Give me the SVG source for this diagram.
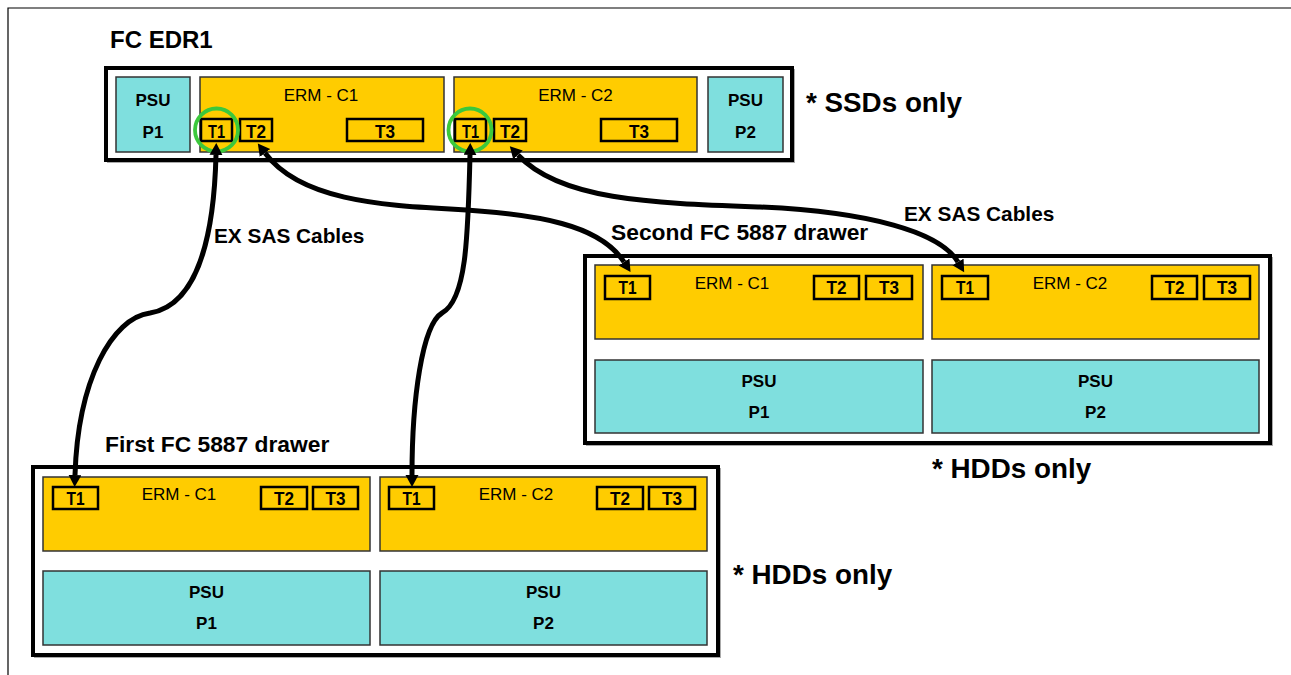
<svg xmlns="http://www.w3.org/2000/svg" width="1291" height="675" viewBox="0 0 1291 675">
<style>
text{font-family:"Liberation Sans",Arial,sans-serif;fill:#000}
.ttl{font-weight:bold;font-size:22.8px}
.big{font-weight:bold;font-size:24px}
.note{font-weight:bold;font-size:27.8px}
.cab{font-weight:bold;font-size:20.8px}
.psu{font-weight:bold;font-size:17px;text-anchor:middle}
.erm{font-size:17px;text-anchor:middle}
.t{font-weight:bold;font-size:18.5px;text-anchor:middle}
.outer{fill:#fff;stroke:#000;stroke-width:4}
.shadow{fill:none;stroke:#aaa;stroke-width:2}
.gold{fill:#FFCC00;stroke:#333;stroke-width:1.5}
.cyan{fill:#7FDFDE;stroke:#333;stroke-width:1.5}
.port{fill:none;stroke:#000;stroke-width:2.5}
.ring{fill:none;stroke:#3CC83C;stroke-width:3.8}
.cable{fill:none;stroke:#000;stroke-width:5;marker-start:url(#ah);marker-end:url(#ah)}
</style>
<defs>
<marker id="ah" markerUnits="userSpaceOnUse" markerWidth="14" markerHeight="14" refX="0" refY="6.5" orient="auto-start-reverse">
<path d="M0,0 L12,6.5 L0,13 z" fill="#000"/>
</marker>
</defs>
<rect x="0" y="0" width="1291" height="675" fill="#fff"/>
<path d="M8,675 L8,8 L1291,8" fill="none" stroke="#000" stroke-width="1.2"/>

<g id="edr1">
<text class="big" x="110" y="48">FC EDR1</text>
<rect class="shadow" x="108" y="70" width="686" height="92"/>
<rect class="outer" x="106" y="68" width="686" height="92"/>
<g id="edr1-psu1"><rect class="cyan" x="116" y="77" width="74" height="75"/><text class="psu" x="153" y="106">PSU</text><text class="psu" x="153" y="138">P1</text></g>
<g id="edr1-c1"><rect class="gold" x="200" y="77" width="244" height="75"/><text class="erm" x="321" y="101">ERM - C1</text>
<rect class="port" x="201" y="119" width="31" height="22"/><text class="t" x="216.5" y="138" textLength="17" lengthAdjust="spacingAndGlyphs">T1</text>
<rect class="port" x="240" y="119" width="32" height="22"/><text class="t" x="256" y="138" textLength="20" lengthAdjust="spacingAndGlyphs">T2</text>
<rect class="port" x="347" y="119" width="76" height="22"/><text class="t" x="385" y="138" textLength="20" lengthAdjust="spacingAndGlyphs">T3</text></g>
<g id="edr1-c2"><rect class="gold" x="454" y="77" width="243" height="75"/><text class="erm" x="575.5" y="101">ERM - C2</text>
<rect class="port" x="455" y="119" width="31" height="22"/><text class="t" x="470.5" y="138" textLength="17" lengthAdjust="spacingAndGlyphs">T1</text>
<rect class="port" x="494" y="119" width="32" height="22"/><text class="t" x="510" y="138" textLength="20" lengthAdjust="spacingAndGlyphs">T2</text>
<rect class="port" x="601" y="119" width="76" height="22"/><text class="t" x="639" y="138" textLength="20" lengthAdjust="spacingAndGlyphs">T3</text></g>
<g id="edr1-psu2"><rect class="cyan" x="708" y="77" width="75" height="75"/><text class="psu" x="745.5" y="106">PSU</text><text class="psu" x="745.5" y="138">P2</text></g>
<circle class="ring" cx="216.5" cy="130" r="21.5"/>
<circle class="ring" cx="470" cy="130" r="21.5"/>
<text class="note" x="806" y="112">* SSDs only</text>
</g>

<g id="drawer2">
<text class="ttl" x="611" y="240">Second FC 5887 drawer</text>
<rect class="shadow" x="587" y="258" width="685" height="187"/>
<rect class="outer" x="585" y="256" width="685" height="187"/>
<g id="d2-c1"><rect class="gold" x="595" y="265" width="328" height="74"/><text class="erm" x="732" y="289">ERM - C1</text>
<rect class="port" x="605" y="276" width="45" height="23"/><text class="t" x="627.5" y="294" textLength="18" lengthAdjust="spacingAndGlyphs">T1</text>
<rect class="port" x="814" y="276" width="45" height="23"/><text class="t" x="836.5" y="294" textLength="20" lengthAdjust="spacingAndGlyphs">T2</text>
<rect class="port" x="866" y="276" width="46" height="23"/><text class="t" x="889" y="294" textLength="20" lengthAdjust="spacingAndGlyphs">T3</text></g>
<g id="d2-c2"><rect class="gold" x="932" y="265" width="327" height="74"/><text class="erm" x="1070" y="289">ERM - C2</text>
<rect class="port" x="942" y="276" width="46" height="23"/><text class="t" x="965" y="294" textLength="18" lengthAdjust="spacingAndGlyphs">T1</text>
<rect class="port" x="1152" y="276" width="45" height="23"/><text class="t" x="1174.5" y="294" textLength="20" lengthAdjust="spacingAndGlyphs">T2</text>
<rect class="port" x="1204" y="276" width="46" height="23"/><text class="t" x="1227" y="294" textLength="20" lengthAdjust="spacingAndGlyphs">T3</text></g>
<g id="d2-p1"><rect class="cyan" x="595" y="360" width="328" height="73"/><text class="psu" x="759" y="387">PSU</text><text class="psu" x="759" y="418">P1</text></g>
<g id="d2-p2"><rect class="cyan" x="932" y="360" width="327" height="73"/><text class="psu" x="1095.5" y="387">PSU</text><text class="psu" x="1095.5" y="418">P2</text></g>
<text class="note" x="932" y="478">* HDDs only</text>
</g>

<g id="drawer1">
<text class="ttl" x="105" y="452">First FC 5887 drawer</text>
<rect class="shadow" x="35" y="469" width="685" height="188"/>
<rect class="outer" x="33" y="467" width="685" height="188"/>
<g id="d1-c1"><rect class="gold" x="43" y="477" width="327" height="74"/><text class="erm" x="179" y="500">ERM - C1</text>
<rect class="port" x="53" y="487" width="45" height="22"/><text class="t" x="75.5" y="505" textLength="18" lengthAdjust="spacingAndGlyphs">T1</text>
<rect class="port" x="261" y="487" width="46" height="22"/><text class="t" x="284" y="505" textLength="20" lengthAdjust="spacingAndGlyphs">T2</text>
<rect class="port" x="313" y="487" width="45" height="22"/><text class="t" x="335.5" y="505" textLength="20" lengthAdjust="spacingAndGlyphs">T3</text></g>
<g id="d1-c2"><rect class="gold" x="380" y="477" width="327" height="74"/><text class="erm" x="516" y="500">ERM - C2</text>
<rect class="port" x="389" y="487" width="45" height="22"/><text class="t" x="411.5" y="505" textLength="18" lengthAdjust="spacingAndGlyphs">T1</text>
<rect class="port" x="597" y="487" width="46" height="22"/><text class="t" x="620" y="505" textLength="20" lengthAdjust="spacingAndGlyphs">T2</text>
<rect class="port" x="649" y="487" width="46" height="22"/><text class="t" x="672" y="505" textLength="20" lengthAdjust="spacingAndGlyphs">T3</text></g>
<g id="d1-p1"><rect class="cyan" x="43" y="571" width="327" height="74"/><text class="psu" x="206.5" y="598">PSU</text><text class="psu" x="206.5" y="629">P1</text></g>
<g id="d1-p2"><rect class="cyan" x="380" y="571" width="327" height="74"/><text class="psu" x="543.5" y="598">PSU</text><text class="psu" x="543.5" y="629">P2</text></g>
<text class="note" x="733" y="584">* HDDs only</text>
</g>

<g id="connectors">
<path class="cable" d="M216,155 C214,235 198,305 150,313 C112,318 78,380 75,475"/>
<path class="cable" d="M470,155 C468,240 466,300 442,313 C422,325 412,400 412,475"/>
<path class="cable" d="M265,153 C300,200 380,205 450,209 C540,214 600,225 624,262"/>
<path class="cable" d="M518,155 C560,200 650,203 760,207 C870,212 940,232 958,262"/>
<text class="cab" x="214" y="243">EX SAS Cables</text>
<text class="cab" x="904" y="221">EX SAS Cables</text>
</g>
</svg>
